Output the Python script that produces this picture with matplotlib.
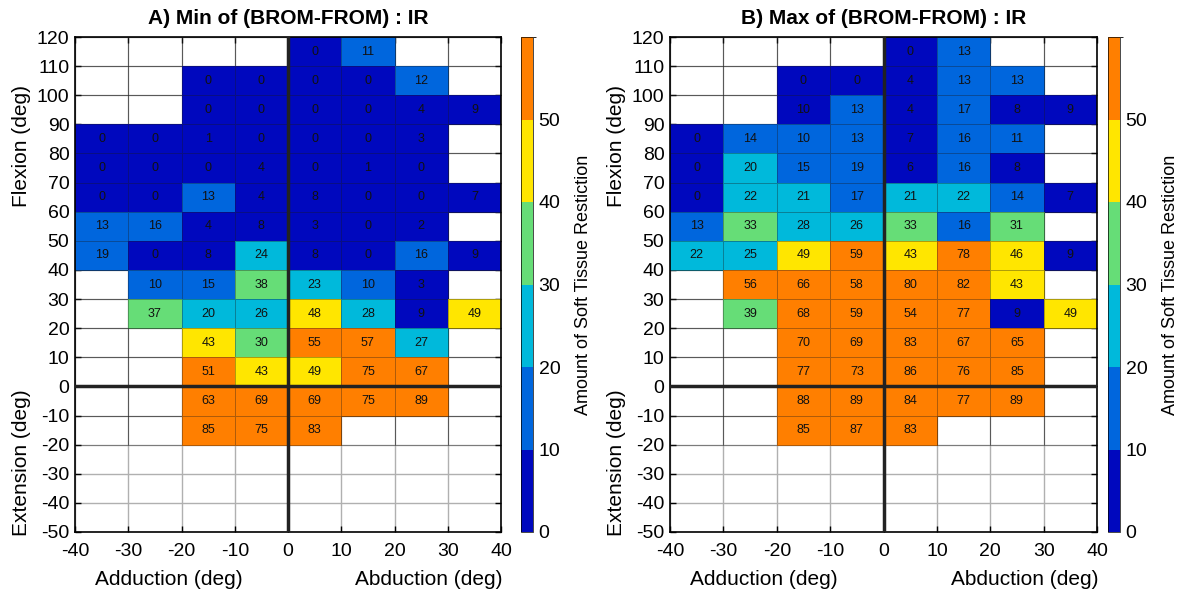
import numpy as np
import matplotlib
matplotlib.use("Agg")
import matplotlib.pyplot as plt
from matplotlib.colors import ListedColormap, BoundaryNorm

plt.rcParams['font.family'] = ['Liberation Sans', 'DejaVu Sans']
plt.rcParams['axes.unicode_minus'] = False

nan = np.nan
x_edges = [-40, -30, -20, -10, 0, 10, 20, 30, 40]
y_edges = [120, 110, 100, 90, 80, 70, 60, 50, 40, 30, 20, 10, 0, -10, -20]

min_vals = [
    [nan, nan, nan, nan, 0, 11, nan, nan],
    [nan, nan, 0, 0, 0, 0, 12, nan],
    [nan, nan, 0, 0, 0, 0, 4, 9],
    [0, 0, 1, 0, 0, 0, 3, nan],
    [0, 0, 0, 4, 0, 1, 0, nan],
    [0, 0, 13, 4, 8, 0, 0, 7],
    [13, 16, 4, 8, 3, 0, 2, nan],
    [19, 0, 8, 24, 8, 0, 16, 9],
    [nan, 10, 15, 38, 23, 10, 3, nan],
    [nan, 37, 20, 26, 48, 28, 9, 49],
    [nan, nan, 43, 30, 55, 57, 27, nan],
    [nan, nan, 51, 43, 49, 75, 67, nan],
    [nan, nan, 63, 69, 69, 75, 89, nan],
    [nan, nan, 85, 75, 83, nan, nan, nan],
]

max_vals = [
    [nan, nan, nan, nan, 0, 13, nan, nan],
    [nan, nan, 0, 0, 4, 13, 13, nan],
    [nan, nan, 9.6, 13, 4, 17, 8, 9],
    [0, 14, 10, 13, 7, 16, 11, nan],
    [0, 20, 15, 19, 6, 16, 8, nan],
    [0, 22, 21, 17, 21, 22, 14, 7],
    [13, 33, 28, 26, 33, 16, 31, nan],
    [22, 25, 49, 59, 43, 78, 46, 9],
    [nan, 56, 66, 58, 80, 82, 43, nan],
    [nan, 39, 68, 59, 54, 77, 9, 49],
    [nan, nan, 70, 69, 83, 67, 65, nan],
    [nan, nan, 77, 73, 86, 76, 85, nan],
    [nan, nan, 88, 89, 84, 77, 89, nan],
    [nan, nan, 85, 87, 83, nan, nan, nan],
]

titles = ["A) Min of (BROM-FROM) : IR", "B) Max of (BROM-FROM) : IR"]
cbar_ticks = [0, 10, 20, 30, 40, 50]
x_ticks = [-40, -30, -20, -10, 0, 10, 20, 30, 40]
y_ticks = list(range(-50, 121, 10))

colors = ["#0008BE", "#0066DD", "#00B9DB", "#66DD77", "#FFE600", "#FF7F00"]
cmap = ListedColormap(colors)
cmap.set_over(colors[-1])
norm = BoundaryNorm([0, 10, 20, 30, 40, 50, 60], cmap.N, clip=True)

fig = plt.figure(figsize=(11.82, 5.92), dpi=100)
W, H = 1182, 592
ax_boxes = [(75, 37, 501, 532), (670, 37, 1097, 532)]
cb_boxes = [(521, 37, 533, 532), (1108, 37, 1120, 532)]

for i, vals in enumerate([min_vals, max_vals]):
    l, t, r, b = ax_boxes[i]
    ax = fig.add_axes([l / W, 1 - b / H, (r - l) / W, (b - t) / H])
    data = np.ma.masked_invalid(np.array(vals, dtype=float))
    ax.set_xlim(-40, 40)
    ax.set_ylim(-50, 120)
    ax.set_axisbelow(True)
    ax.grid(True, color="#b0b0b0", linewidth=1.0)
    mesh = ax.pcolormesh(x_edges, y_edges, data, cmap=cmap, norm=norm,
                         edgecolors=(0.1, 0.1, 0.1, 0.35), linewidth=0.6,
                         zorder=2)
    xc = [(x_edges[k] + x_edges[k + 1]) / 2 for k in range(len(x_edges) - 1)]
    yc = [(y_edges[k] + y_edges[k + 1]) / 2 for k in range(len(y_edges) - 1)]
    for ri, row in enumerate(vals):
        for ci, v in enumerate(row):
            if not np.isnan(v):
                ax.text(xc[ci], yc[ri], f"{v:.0f}", ha="center", va="center",
                        fontsize=9, color="#111111", zorder=4)
    ax.axvline(0, color="#222222", linewidth=2.5, zorder=3)
    ax.axhline(0, color="#222222", linewidth=2.5, zorder=3)
    ax.set_xticks(x_ticks)
    ax.set_yticks(y_ticks)
    ax.tick_params(direction="in", length=4, labelsize=14, top=True, right=True,
                   width=1)
    ax.tick_params(axis="x", pad=8)
    ax.tick_params(axis="y", pad=4)
    for s in ax.spines.values():
        s.set_linewidth(1.2)
    ax.set_title(titles[i], fontsize=15, fontweight="bold", pad=9)
    ax.text(-0.125, 0.78, "Flexion (deg)", transform=ax.transAxes, rotation=90,
            ha="center", va="center", fontsize=15)
    ax.text(-0.125, 0.14, "Extension (deg)", transform=ax.transAxes, rotation=90,
            ha="center", va="center", fontsize=15)
    ax.text(0.22, -0.095, "Adduction (deg)", transform=ax.transAxes,
            ha="center", va="center", fontsize=15)
    ax.text(0.83, -0.095, "Abduction (deg)", transform=ax.transAxes,
            ha="center", va="center", fontsize=15)

    cl, ct, cr, cbm = cb_boxes[i]
    cax = fig.add_axes([cl / W, 1 - cbm / H, (cr - cl) / W, (cbm - ct) / H])
    cb = fig.colorbar(mesh, cax=cax, ticks=cbar_ticks, extend="neither")
    cb.outline.set_linewidth(0.5)
    cax.tick_params(labelsize=14, length=0, pad=4)
    cb.set_label("Amount of Soft Tissue Restiction", fontsize=13)
    cax.yaxis.set_label_coords(4.5, 0.5)

fig.savefig("out.png", dpi=100)
